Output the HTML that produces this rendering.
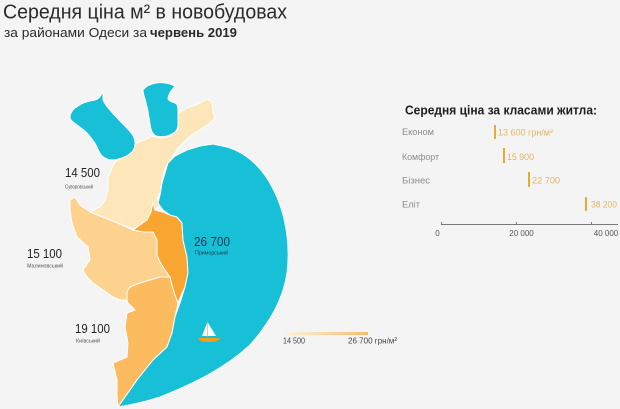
<!DOCTYPE html>
<html><head><meta charset="utf-8">
<style>
html,body{margin:0;padding:0;background:#f4f4f4;}
svg{display:block;font-family:"Liberation Sans","DejaVu Sans",sans-serif;}
</style></head>
<body>
<svg width="620" height="409" viewBox="0 0 620 409" xmlns="http://www.w3.org/2000/svg">
<rect width="620" height="409" fill="#f4f4f4"/>
<!-- Titles -->
<text x="3" y="18.5" font-size="20" fill="#2b2b2b" textLength="284" lengthAdjust="spacingAndGlyphs">Середня ціна м² в новобудовах</text>
<text x="4" y="37" font-size="13" fill="#2b2b2b" textLength="143" lengthAdjust="spacingAndGlyphs">за районами Одеси за</text>
<text x="150" y="37" font-size="13" font-weight="bold" fill="#2b2b2b" textLength="87" lengthAdjust="spacingAndGlyphs">червень 2019</text>

<!-- Map -->
<g stroke="#ffffff" stroke-width="1" stroke-linejoin="round">
<!-- Suvorovskyi cream -->
<polygon fill="#fde6ba" points="200,103 207,99 212,102 213,112 215,118 210,123 203,128 193,134 185,141 178,148 172,158 165,168 162,180 160,193 157,198 160,205 155,210 153,212 147,220 140,225 133,229 120,224 105,218 90,212 100,207 105,200 108,190 108,178 112,168 115,162 122,158 128,153 133,146 138,142 145,140 152,136 160,138 170,136 177,131 178,123 178,113 182,111 187,108 193,106"/>
<!-- Malynovskyi -->
<polygon fill="#fdd18e" points="70,200 75,197 80,205 90,212 105,218 120,224 133,230 143,232 153,232 157,240 157,255 160,262 165,270 170,277 160,277 150,280 140,283 130,287 127,292 127,300 120,300 113,297 103,290 93,283 87,277 83,270 90,260 88,247 77,237 72,223 70,210"/>
<!-- Kyivskyi -->
<polygon fill="#fbbb5e" points="127,292 130,287 140,283 150,280 160,277 170,277 172,285 175,295 178,303 175,317 172,333 167,347 153,360 137,380 118,407 117,395 117,380 113,363 120,360 127,357 128,343 125,327 127,313 135,310 128,303 127,300"/>
<!-- Prymorskyi -->
<polygon fill="#f8a631" points="153,202 155,210 163,212 170,215 177,217 182,223 183,240 187,257 188,273 185,287 182,293 178,303 175,295 172,285 170,277 165,270 160,262 157,255 157,240 153,232 143,232 133,230 140,225 147,220 151,212"/>
<!-- Sea -->
<path fill="#17bfd7" d="M118,407 L137,380 L153,360 L167,347 L172,333 L175,317 L180,303 L185,287 L188,273 L187,257 L183,240 L182,223 L177,217 L170,215 L163,210 L158,203 L160,195 L162,183 L165,173 L168,163 L175,156 L187,150 L200,146 L213,144 L227,147 C250,154 268,172 280,205 C287,225 290,250 287,273 C283,300 270,322 250,345 C225,368 195,383 160,397 C145,402 130,405 118,407 Z"/>
<!-- Lakes -->
<path fill="#17bfd7" d="M70,116 C71,111 74,108 78,106 C82,103 88,101 95,100 C98,99 100,97 101,95 L103,91 L103,100 C105,104 107,107 110,110 C113,114 117,118 121,122 C125,126 129,130 132,134 C135,138 136,144 134,149 C132,153 127,156 122,158 C117,160 110,161 105,158 C101,156 99,152 97,147 C94,141 90,136 85,131 C80,127 75,124 72,121 C70,119 70,118 70,116 Z"/>
<path fill="#17bfd7" d="M143,90 C146,86 150,84 156,83 C162,82 169,83 175,86 L171,91 C169,94 168,97 168,99 C169,101 172,102 175,103 C178,104 178,108 178,112 L178,125 C178,130 175,133 170,135 C166,137 160,137 156,136 C152,134 151,130 150,124 C149,117 148,110 146,103 C145,98 143,94 143,90 Z"/>
</g>
<!-- Boat -->
<polygon points="207.5,322 202,336 216,336" fill="#ffffff"/>
<line x1="207.5" y1="322" x2="207.5" y2="337" stroke="#f5a02a" stroke-width="0.6"/>
<path d="M198,338 L220,338 Q218,342 212,342 L206,342 Q200,342 198,338 Z" fill="#f39c22"/>

<!-- Map labels -->
<g fill="#222">
<text x="65" y="177" font-size="12.5" textLength="35" lengthAdjust="spacingAndGlyphs">14 500</text>
<text x="27" y="258" font-size="12.5" textLength="35" lengthAdjust="spacingAndGlyphs">15 100</text>
<text x="75" y="333" font-size="12.5" textLength="35" lengthAdjust="spacingAndGlyphs">19 100</text>
</g>
<g fill="#555" font-size="5.5">
<text x="65" y="188.5" textLength="28" lengthAdjust="spacingAndGlyphs">Суворовський</text>
<text x="27" y="267.5" textLength="36" lengthAdjust="spacingAndGlyphs">Малиновський</text>
<text x="76" y="342.5" textLength="24" lengthAdjust="spacingAndGlyphs">Київський</text>
</g>
<text x="194" y="246" font-size="12.5" fill="#1d3a50" textLength="36" lengthAdjust="spacingAndGlyphs">26 700</text>
<text x="195" y="254.5" font-size="5.5" fill="#1d3a50" textLength="33" lengthAdjust="spacingAndGlyphs">Приморський</text>

<!-- Legend -->
<defs>
<linearGradient id="lg" x1="0" x2="1" y1="0" y2="0">
<stop offset="0" stop-color="#fdf1de"/>
<stop offset="1" stop-color="#f4bd6e"/>
</linearGradient>
</defs>
<rect x="285" y="332" width="83" height="3" fill="url(#lg)"/>
<text x="283" y="343.5" font-size="8.5" fill="#444" textLength="22" lengthAdjust="spacingAndGlyphs">14 500</text>
<text x="348" y="343.5" font-size="8.5" fill="#444" textLength="49" lengthAdjust="spacingAndGlyphs">26 700 грн/м²</text>

<!-- Right chart -->
<text x="405" y="114.5" font-size="13" font-weight="bold" fill="#1e1e1e" textLength="192" lengthAdjust="spacingAndGlyphs">Середня ціна за класами житла:</text>
<g fill="#8d8d8d" font-size="9">
<text x="402" y="135" textLength="32" lengthAdjust="spacingAndGlyphs">Економ</text>
<text x="402" y="160" textLength="37" lengthAdjust="spacingAndGlyphs">Комфорт</text>
<text x="402" y="183.5" textLength="28" lengthAdjust="spacingAndGlyphs">Бізнес</text>
<text x="402" y="207.5" textLength="18" lengthAdjust="spacingAndGlyphs">Еліт</text>
</g>
<g fill="#e8a93b">
<rect x="494" y="125" width="2" height="14"/>
<rect x="503" y="148" width="2" height="15"/>
<rect x="528" y="172" width="2" height="15"/>
<rect x="585" y="197" width="2" height="14"/>
</g>
<g fill="#e3b465" font-size="9">
<text x="498" y="135.5" textLength="55" lengthAdjust="spacingAndGlyphs">13 600 грн/м²</text>
<text x="507" y="160" textLength="27" lengthAdjust="spacingAndGlyphs">15 900</text>
<text x="532" y="183.5" textLength="28" lengthAdjust="spacingAndGlyphs">22 700</text>
<text x="591" y="207.5" textLength="26" lengthAdjust="spacingAndGlyphs">38 200</text>
</g>
<line x1="441" y1="224.5" x2="618" y2="224.5" stroke="#7a7a7a" stroke-width="1"/>
<g stroke="#7a7a7a" stroke-width="1">
<line x1="441.5" y1="222" x2="441.5" y2="225"/>
<line x1="516.5" y1="222" x2="516.5" y2="225"/>
<line x1="591.5" y1="222" x2="591.5" y2="225"/>
</g>
<g fill="#555" font-size="8" text-anchor="middle">
<text x="437.5" y="236">0</text>
<text x="521.5" y="236">20 000</text>
<text x="606" y="236">40 000</text>
</g>
</svg>
</body></html>
